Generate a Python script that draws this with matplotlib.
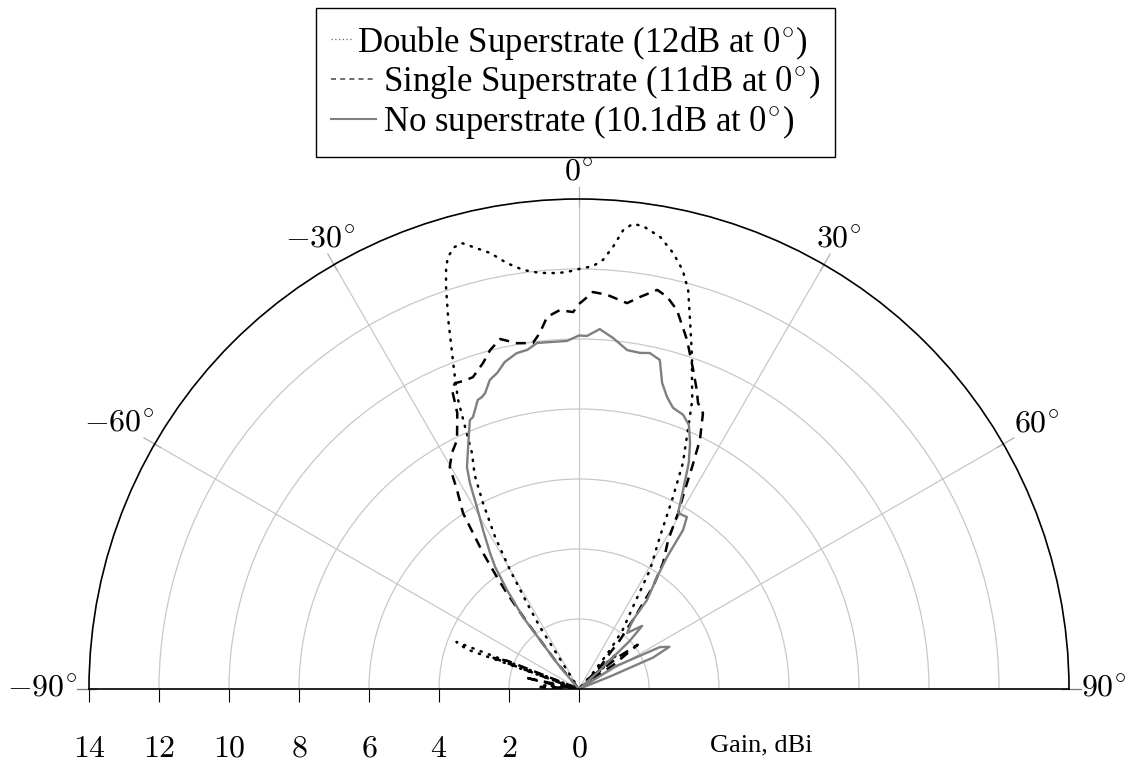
import numpy as np
import matplotlib
matplotlib.use('Agg')
import matplotlib.pyplot as plt
import matplotlib.transforms as mtransforms
from matplotlib.lines import Line2D
from matplotlib.legend_handler import HandlerLine2D

plt.rcParams['mathtext.fontset'] = 'cm'
plt.rcParams['font.family'] = ['Liberation Serif', 'DejaVu Serif']

# radiation patterns, angle in degrees / gain in dBi (clipped at 0)
double_deg = [-90, -86, -84, -82, -76, -72, -70.5, -69, -68, -66, -40, -33,
              -32.3, -32.2, -31.2, -30.1, -28.9, -27.3, -26, -24.4, -23.5, -22.7,
              -21.7, -20.7, -19.5, -18.3, -17.6, -16.9, -15.7, -14.7, -13.5, -11.5,
              -9.6, -7.6, -5.4, -3, -1.6, 0, 1.9, 3.2, 4.4, 5.5, 6.6, 7.9, 10.2,
              12.2, 13.9, 15.3, 16.9, 18.8, 19.9, 21.4, 22.8, 24.7, 26.1, 28,
              30.8, 33, 36.5, 38.5, 41, 43, 46, 48, 50, 52, 90]
double_gain = [0, 0, 1.0, 0, 0, 0.5, 3.4, 3.75, 0.3, 0, 0, 0.3,
               1.2, 2.09, 2.87, 3.93, 4.96, 5.98, 6.8, 7.4, 8.16, 8.95,
               9.59, 10.26, 11.19, 12.1, 12.56, 12.9, 13.12, 13.17, 12.99, 12.71,
               12.34, 12.08, 11.94, 11.9, 11.92, 12.0, 12.09, 12.28, 12.67, 13.17, 13.38, 13.35, 13.12,
               12.74, 12.33, 11.82, 10.93, 10.02, 9.48, 8.87, 8.03, 7.1, 6.1, 4.92,
               3.96, 2.9, 2.1, 1.42, 0.6, 0, 1.0, 1.4, 0.6, 0, 0]

single_deg = [-90, -87, -85, -80, -78, -76, -72, -70, -68.5, -67, -46, -40, -38,
              -37.5, -37, -36.2, -35.2, -34.2, -33.4, -31.5, -30.2, -28.3, -26.1,
              -23.8, -23, -22.1, -20.6, -18.8, -16.4, -14.7, -12.7, -10.2, -7.6,
              -6.3, -4.9, -2.9, -0.9, 0, 1.2, 2, 4.1, 7.1, 8.8, 11.1, 12.7, 14.5,
              17.2, 19.7, 21.5, 22.6, 24.2, 25.9, 27, 28, 29.4, 30.9, 33.7, 35.9,
              36.7, 37.9, 38.5, 39.9, 40.7, 43.7, 45, 47, 48, 51, 53, 55, 57, 90]
single_gain = [0, 1.1, 0, 0.8, 1.6, 0, 0.6, 2.6, 2.2, 0, 0, 1.0, 2.2,
               2.8, 3.4, 4.0, 4.76, 5.39, 6.02, 6.67, 7.34, 7.66, 7.92,
               8.62, 9.28, 9.43, 9.4, 9.41, 9.71, 10.01, 10.25, 10.04, 9.97,
               10.23, 10.67, 10.84, 10.77, 11.0, 11.2, 11.35, 11.29, 11.11, 11.33, 11.62, 11.48, 11.18,
               10.44, 9.68, 9.18, 8.85, 8.64, 7.91, 7.12, 6.44, 5.77, 4.96, 4.33, 3.6,
               3.06, 2.6, 2.24, 1.83, 1.36, 0.87, 0, 1.4, 0.5, 1.5, 2.1, 1.2, 0, 0]

none_deg = [-90, -45, -41, -40.2, -38.5, -37.9, -36, -34.5, -33.2, -31.1, -29.3,
            -27.9, -26.8, -24.6, -22.1, -21.3, -19.3, -18.4, -17.6, -16.1, -14.5,
            -12.8, -10.5, -8.7, -6.9, -2, 0, 1.3, 3.3, 5.5, 8.1, 10.3, 11.9, 13.8,
            15.2, 16.8, 18.5, 20.8, 22.6, 24.3, 25.9, 27.6, 29.4, 32.1, 33.2, 33.7,
            34.9, 37.4, 38, 40.6, 45, 46.5, 48, 50, 56, 58, 62.6, 65, 67, 68, 70, 90]
none_gain = [0, 0, 0.5, 0.97, 1.79, 2.61, 3.5, 4.23, 4.64, 5.31, 5.96,
             6.66, 7.1, 7.61, 8.29, 8.34, 8.75, 8.79, 8.87, 9.19, 9.33,
             9.58, 9.76, 9.8, 9.96, 9.95, 10.1, 10.09, 10.3, 10.08, 9.78, 9.76, 9.81, 9.68,
             9.06, 8.71, 8.47, 8.38, 8.17, 7.71, 7.18, 6.42, 5.77, 5.8, 5.43, 4.53,
             3.9, 3.2, 2.5, 2.11, 2.55, 2.0, 0.8, 0, 0, 1.2, 2.6, 2.85, 2.3, 1.0, 0, 0]

angle_ticks = [-90, -60, -30, 0, 30, 60, 90]
gain_ticks = [0, 2, 4, 6, 8, 10, 12, 14]
legend_labels = [r'Double Superstrate (12dB at $0^{\circ}$)',
                 r'Single Superstrate (11dB at $0^{\circ}$)',
                 r'No superstrate (10.1dB at $0^{\circ}$)']


class LongLine(HandlerLine2D):
    """legend line that runs `extra` points further to the right"""
    def __init__(self, extra=0, **kw):
        super().__init__(**kw)
        self.extra = extra

    def create_artists(self, legend, orig_handle, xdescent, ydescent,
                       width, height, fontsize, trans):
        return super().create_artists(legend, orig_handle, xdescent, ydescent,
                                      width + self.extra, height, fontsize, trans)


W, H = 1130, 774
fig = plt.figure(figsize=(W / 100, H / 100), dpi=100)
# square box; the half disc sits in its middle
ax = fig.add_axes([89 / W, -160 / H, 980 / W, 980 / H], projection='polar')
ax.set_theta_zero_location('N')
ax.set_theta_direction(-1)
ax.set_thetamin(-90)
ax.set_thetamax(90)
ax.set_ylim(0, 14)

ax.set_rgrids(gain_ticks[1:-1])
ax.set_yticklabels([])
ax.set_thetagrids(angle_ticks, [''] * len(angle_ticks))
ax.tick_params(axis='x', length=0)
ax.tick_params(axis='y', length=0)
ax.grid(True, color='#c8c8c8', lw=0.9)
for s in ['polar', 'start', 'end']:
    ax.spines[s].set_color('black')
    ax.spines[s].set_linewidth(1.2)

ax.plot(np.deg2rad(double_deg), double_gain, color='black', lw=1.8,
        linestyle=(0, (0.5, 3.0)), dash_capstyle='round')
ax.plot(np.deg2rad(single_deg), single_gain, color='black', lw=1.8,
        linestyle=(0, (4, 2.8)))
ax.plot(np.deg2rad(none_deg), none_gain, color='#7f7f7f', lw=1.7)

# angle ticks crossing the rim, labels a fixed gap outside it
renderer = fig.canvas.get_renderer()
gap = 12
for a in angle_ticks:
    th = np.deg2rad(a)
    tick_col = '#777777' if abs(a) == 90 else '#b0b0b0'
    ax.plot([th, th], [13.8, 14.35], color=tick_col, lw=0.9, clip_on=False)
    ux, uy = np.sin(th), np.cos(th)
    t = ax.text(th, 14, r'$%d^{\circ}$' % a, fontsize=23, ha='center', va='center')
    bb = t.get_window_extent(renderer)
    half = min(bb.width / 2 / max(abs(ux), 1e-9), bb.height / 2 / max(abs(uy), 1e-9))
    d = gap + half
    t.set_transform(mtransforms.offset_copy(ax.transData, fig, x=d * ux, y=d * uy,
                                            units='dots'))

# gain scale under the left half
ax2 = fig.add_axes([89 / W, 85 / H, 490 / W, 0.0001])
ax2.set_xlim(14, 0)
ax2.set_xticks(gain_ticks)
ax2.set_xticklabels([r'$%d$' % g for g in gain_ticks])
ax2.set_yticks([])
for s in ax2.spines.values():
    s.set_visible(False)
ax2.patch.set_visible(False)
ax2.tick_params(axis='x', direction='out', length=9, width=0.8, labelsize=23, pad=24)

fig.text(761 / W, 1 - 745 / H, 'Gain, dBi', ha='center', va='center', fontsize=19)

handles = [Line2D([], [], color='#666666', lw=0.9, linestyle=(0, (1, 2))),
           Line2D([], [], color='#555555', lw=1.2, linestyle=(0, (3, 2.5))),
           Line2D([], [], color='#7f7f7f', lw=1.5)]
pad = '\u00a0\u00a0\u00a0'
labels = [legend_labels[0], pad + legend_labels[1], pad + legend_labels[2]]
leg = fig.legend(handles, labels, loc='upper center',
                 bbox_to_anchor=(575.5 / W, 1 - 8 / H), fontsize=25,
                 frameon=True, fancybox=False, framealpha=1, edgecolor='black',
                 handlelength=0.58, handletextpad=0.15, labelspacing=0.05,
                 borderpad=0.45, borderaxespad=0,
                 handler_map={handles[1]: LongLine(extra=18),
                              handles[2]: LongLine(extra=18)})
leg.get_frame().set_linewidth(1.0)

fig.savefig('out.png', dpi=100)
